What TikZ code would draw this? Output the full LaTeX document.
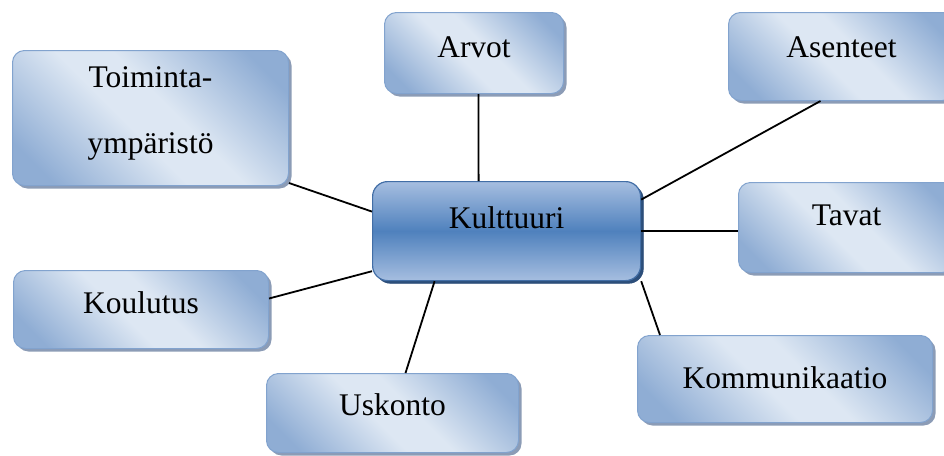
\documentclass[tikz,border=0pt]{standalone}
\usepackage{fontspec}
\setmainfont{Liberation Serif}
\usetikzlibrary{shadows}

\definecolor{leafdark}{RGB}{143,173,212}
\definecolor{leaflight}{RGB}{221,231,243}
\definecolor{leafline}{RGB}{130,163,206}
\definecolor{leafshade}{RGB}{140,156,182}
\definecolor{coredark}{RGB}{79,129,189}
\definecolor{corelight}{RGB}{166,190,224}
\definecolor{coreline}{RGB}{66,110,166}
\definecolor{coreshade}{RGB}{44,78,122}

\pgfdeclareverticalshading{leafshading}{100bp}{color(0bp)=(leafdark); color(22bp)=(leafdark);
  color(45bp)=(leaflight); color(55bp)=(leaflight); color(78bp)=(leafdark); color(100bp)=(leafdark)}

\tikzset{
  leaf/.style={draw=leafline, line width=1pt, rounded corners=12pt,
    shading=leafshading, shading angle=-45,
    drop shadow={shadow xshift=3pt, shadow yshift=-3pt, fill=leafshade, opacity=1},
    inner sep=0pt, anchor=north west,
    font=\fontsize{31.5}{66}\selectfont},
  core/.style={leaf, draw=coreline, line width=1.2pt, rounded corners=15pt,
    shading=axis, top color=corelight, bottom color=corelight, middle color=coredark,
    shading angle=0,
    drop shadow={shadow xshift=3pt, shadow yshift=-3pt, fill=coreshade, opacity=1}},
  link/.style={line width=1.8pt}
}

\begin{document}
\begin{tikzpicture}[x=1pt,y=-1pt]
		\useasboundingbox (0,0) rectangle (944,455);
		\node[core, minimum width=268pt, text height=46.4pt, text depth=52.6pt] (kult) at (372,181) {Kulttuuri};
		\node[leaf, minimum width=179pt, text height=45.4pt, text depth=35.6pt] (arvot) at (384,12) {Arvot};
		\node[leaf, minimum width=226pt, text height=45.4pt, text depth=42.6pt] (asen) at (728,12) {Asenteet};
		\node[leaf, minimum width=276pt, align=center, text height=103.4pt, text depth=31.6pt] (toim) at (12,50) {Toiminta-\\ympäristö};
		\node[leaf, minimum width=216pt, text height=43.4pt, text depth=46.6pt] (tavat) at (738,182) {Tavat};
		\node[leaf, minimum width=255pt, text height=43.4pt, text depth=34.6pt] (koul) at (13,270) {Koulutus};
		\node[leaf, minimum width=252pt, text height=42.4pt, text depth=36.6pt] (usk) at (266,373) {Uskonto};
		\node[leaf, minimum width=295pt, text height=53.4pt, text depth=33.6pt] (komm) at (637,335) {Kommunikaatio};
		
		\draw[link] ([xshift=4.5pt]arvot.south) -- ([xshift=-28pt]kult.north);
		\draw[link] ([xshift=-21pt]asen.south) -- ([yshift=31.5pt]kult.east);
		\draw[link] ([yshift=3pt]toim.south east) -- ([yshift=19.5pt]kult.west);
		\draw[link] (kult.east) -- (kult.east -| tavat.west);
		\draw[link] ([yshift=11pt]koul.east) -- ([yshift=10pt]kult.south west);
		\draw[link] ([xshift=13pt]usk.north) -- ([xshift=-72pt]kult.south);
		\draw[link] (kult.south east) -- ([xshift=23pt]komm.north west);
		\end{tikzpicture}
\end{document}
